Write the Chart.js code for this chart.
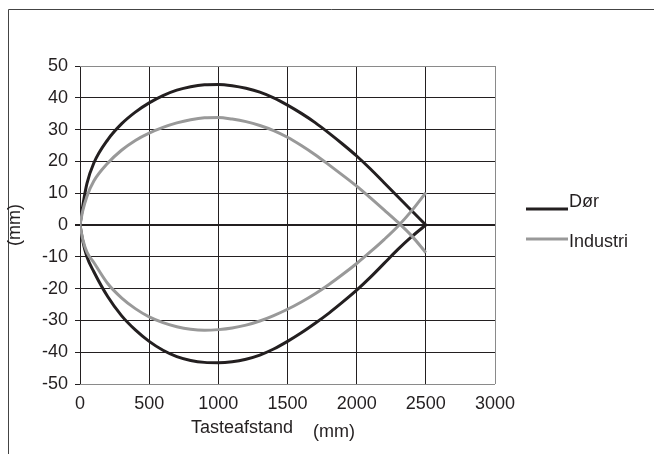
<!DOCTYPE html>
<html>
<head>
<meta charset="utf-8">
<script src="https://cdn.jsdelivr.net/npm/chart.js@4"></script>
<style>
html,body{margin:0;padding:0;background:#fff;}
#wrap{width:654px;height:454px;position:relative;}
</style>
</head>
<body>
<div id="wrap"><canvas id="c" width="654" height="454"></canvas></div>
<script>
// ---- data ----
const xs = [0, 20, 50, 100, 200, 300, 400, 500, 600, 700, 800, 900, 1000, 1100, 1200, 1300, 1400, 1500, 1600, 1700, 1800, 1900, 2000, 2100, 2200, 2300, 2400, 2500];
const dorUpper = [0, 6, 13, 19.5, 26.8, 31.8, 35.5, 38.4, 40.7, 42.4, 43.5, 44.1, 44.2, 43.8, 43.0, 41.8, 40.0, 37.7, 35.1, 32.2, 28.9, 25.4, 21.7, 17.6, 13.2, 8.8, 4.4, 0];
const dorLower = [0, -5, -10, -14.7, -22.5, -28.5, -33.0, -36.6, -39.4, -41.4, -42.6, -43.2, -43.3, -43.0, -42.2, -40.9, -39.0, -36.6, -33.9, -30.9, -27.7, -24.2, -20.5, -16.4, -12.0, -7.6, -3.6, 0];
const indUpper = [0, 4.5, 9, 13.8, 19.4, 23.5, 26.6, 28.9, 30.7, 32.1, 33.1, 33.7, 33.8, 33.3, 32.5, 31.3, 29.7, 27.6, 25.0, 22.1, 18.9, 15.6, 12.2, 8.5, 4.7, 0.8, -3.5, -8.7];
const indLower = [0, -4.5, -8.5, -11.8, -18.4, -22.9, -26.3, -28.9, -30.7, -32.0, -32.8, -33.1, -32.9, -32.4, -31.5, -30.2, -28.5, -26.5, -24.2, -21.6, -18.7, -15.5, -12.1, -8.4, -4.5, -0.3, 4.6, 10.2];
const seriesNames = ['Dør', 'Industri'];
const xTicks = [0, 500, 1000, 1500, 2000, 2500, 3000];
const yTicks = [-50, -40, -30, -20, -10, 0, 10, 20, 30, 40, 50];
const xTitle = 'Tasteafstand';
const unitTitle = '(mm)';

const BLACK = '#231f20';
const GRAY = '#999999';
const FONT = '"Liberation Sans", Arial, Helvetica, sans-serif';

const pts = (ys) => xs.map((x, i) => ({x: x, y: ys[i]}));

function ds(label, ys, color, order) {
  return {
    label: label, data: pts(ys), showLine: true, borderColor: color, backgroundColor: color,
    borderWidth: 3, pointRadius: 0, pointHoverRadius: 0, cubicInterpolationMode: 'monotone',
    order: order, fill: false
  };
}

const decor = {
  id: 'decor',
  beforeDraw(chart) {
    const c = chart.ctx;
    c.save();
    c.fillStyle = '#fff';
    c.fillRect(0, 0, chart.width, chart.height);
    c.restore();
  },
  afterDraw(chart) {
    const c = chart.ctx;
    c.save();
    // outer frame
    c.strokeStyle = '#444';
    c.lineWidth = 1;
    c.beginPath();
    c.moveTo(8.5, 454); c.lineTo(8.5, 9.5); c.lineTo(654, 9.5);
    c.stroke();
    // titles
    c.fillStyle = BLACK;
    c.font = '18px ' + FONT;
    c.textBaseline = 'middle';
    c.textAlign = 'right';
    c.fillText(xTitle, 293, 428);
    c.textAlign = 'center';
    c.fillText(unitTitle, 334, 432);
    c.save();
    c.translate(15, 225);
    c.rotate(-Math.PI / 2);
    c.fillText(unitTitle, 0, 0);
    c.restore();
    // legend
    const leg = [
      {name: seriesNames[0], color: BLACK, lineY: 209, textY: 202},
      {name: seriesNames[1], color: GRAY, lineY: 239, textY: 242}
    ];
    c.textAlign = 'left';
    leg.forEach(l => {
      c.strokeStyle = l.color;
      c.lineWidth = 3;
      c.beginPath();
      c.moveTo(526, l.lineY); c.lineTo(568, l.lineY);
      c.stroke();
      c.fillStyle = BLACK;
      c.fillText(l.name, 569, l.textY);
    });
    c.restore();
  }
};

new Chart(document.getElementById('c'), {
  type: 'scatter',
  data: {
    datasets: [
      ds(seriesNames[0], dorUpper, BLACK, 2),
      ds(seriesNames[0], dorLower, BLACK, 2),
      ds(seriesNames[1], indUpper, GRAY, 1),
      ds(seriesNames[1], indLower, GRAY, 1)
    ]
  },
  options: {
    responsive: false,
    animation: false,
    devicePixelRatio: 1,
    layout: {padding: {top: 66, right: 159, left: 0, bottom: 0}},
    plugins: {legend: {display: false}, tooltip: {enabled: false}},
    scales: {
      x: {
        type: 'linear', min: 0, max: 3000,
        afterBuildTicks: (s) => { s.ticks = xTicks.map(v => ({value: v})); },
        afterFit: (s) => { s.height = 70; },
        border: {display: false},
        grid: {
          drawTicks: false,
          color: (ctx) => (ctx.tick && ctx.tick.value === 3000) ? '#8a8a8a' : BLACK,
          lineWidth: 1
        },
        ticks: {padding: 9, color: BLACK, font: {size: 18, family: FONT}, maxRotation: 0,
          callback: (v) => String(v)}
      },
      y: {
        type: 'linear', min: -50, max: 50,
        afterBuildTicks: (s) => { s.ticks = yTicks.map(v => ({value: v})); },
        afterFit: (s) => { s.width = 80; },
        border: {display: false},
        grid: {
          drawTicks: true, tickLength: 5, tickColor: BLACK,
          color: (ctx) => {
            const v = ctx.tick && ctx.tick.value;
            return (v === 50 || v === -50) ? '#8a8a8a' : BLACK;
          },
          lineWidth: (ctx) => (ctx.tick && ctx.tick.value === 0) ? 2 : 1
        },
        ticks: {padding: 7, color: BLACK, font: {size: 18, family: FONT}, callback: (v) => String(v)}
      }
    }
  },
  plugins: [decor]
});
</script>
</body>
</html>
